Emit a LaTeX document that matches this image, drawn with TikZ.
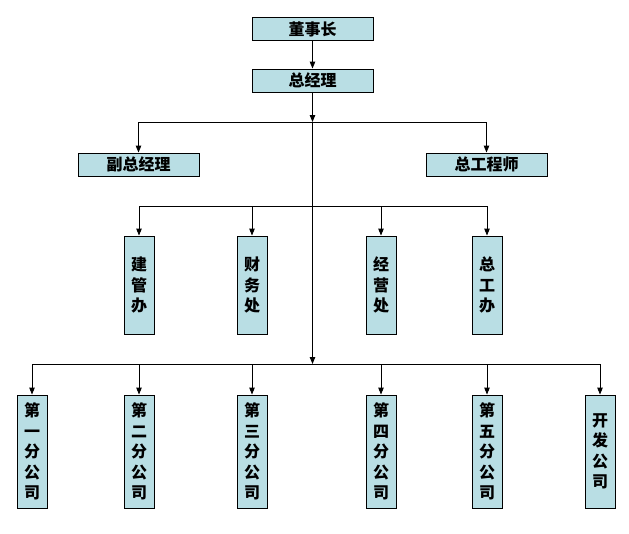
\documentclass[tikz,border=0pt]{standalone}
\usepackage{fontspec}
\newfontfamily\cjk{Noto Sans CJK SC}
\usetikzlibrary{arrows.meta}
\definecolor{boxfill}{RGB}{185,222,228}
\begin{document}
\begin{tikzpicture}[x=1pt,y=-1pt,
 hbox/.style={draw=black, line width=0.9pt, fill=boxfill, minimum width=121pt, minimum height=23pt, inner sep=0pt, font=\cjk\bfseries\fontsize{16}{16}\selectfont},
 vboxa/.style={draw=black, line width=0.9pt, fill=boxfill, minimum width=30pt, minimum height=98pt, inner sep=0pt, align=center, font=\cjk\bfseries\fontsize{16}{20.5}\selectfont},
 vboxb/.style={vboxa, minimum height=113pt},
 arr/.style={-{Triangle[length=7pt,width=5.5pt]}, line width=0.9pt},
 ln/.style={line width=0.9pt}]
\useasboundingbox[fill=white] (0,0) rectangle (629,533);
\node[hbox] (dsz) at (312.5,29) {董事长};
\node[hbox] (zjl) at (312.5,80.5) {总经理};
\node[hbox] (fz) at (138.5,164.5) {副总经理};
\node[hbox] (zg) at (486.5,164.5) {总工程师};
\node[vboxa] (jg) at (139,285) {建\\管\\办};
\node[vboxa] (cw) at (252,285) {财\\务\\处};
\node[vboxa] (jy) at (381,285) {经\\营\\处};
\node[vboxa] (zgb) at (487,285) {总\\工\\办};
\node[vboxb] (c1) at (32,451.5) {第\\一\\分\\公\\司};
\node[vboxb] (c2) at (139,451.5) {第\\二\\分\\公\\司};
\node[vboxb] (c3) at (252,451.5) {第\\三\\分\\公\\司};
\node[vboxb] (c4) at (381,451.5) {第\\四\\分\\公\\司};
\node[vboxb] (c5) at (487,451.5) {第\\五\\分\\公\\司};
\node[vboxb] (kf) at (600,451.5) {开\\发\\公\\司};
\coordinate (j1) at (312.5,122);
\coordinate (j2) at (312.5,206);
\coordinate (j3) at (312.5,364);
\draw[arr] (dsz) -- (zjl);
\draw[arr] (zjl) -- (j1);
\draw[arr] (j1) -- (j3);
\draw[ln] (fz.north |- j1) -- (zg.north |- j1);
\draw[arr] (fz.north |- j1) -- (fz.north);
\draw[arr] (zg.north |- j1) -- (zg.north);
\draw[ln] (jg.north |- j2) -- (zgb.north |- j2);
\foreach \n in {jg,cw,jy,zgb} \draw[arr] (\n.north |- j2) -- (\n.north);
\draw[ln] (c1.north |- j3) -- (kf.north |- j3);
\foreach \n in {c1,c2,c3,c4,c5,kf} \draw[arr] (\n.north |- j3) -- (\n.north);
\end{tikzpicture}
\end{document}
